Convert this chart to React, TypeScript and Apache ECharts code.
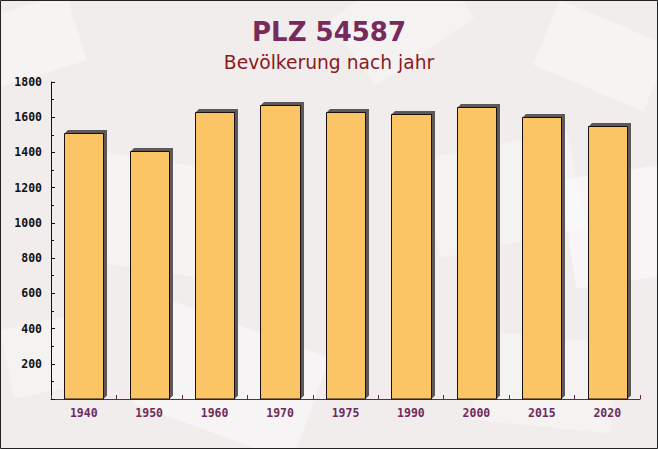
import React, { useEffect, useRef } from "react";
import * as echarts from "echarts";

const categories = ["1940", "1950", "1960", "1970", "1975", "1990", "2000", "2015", "2020"];
const population = [1510, 1410, 1630, 1670, 1627, 1617, 1656, 1600, 1550];
const yTicks = [0, 200, 400, 600, 800, 1000, 1200, 1400, 1600, 1800];

const titleText = "PLZ 54587";
const subtitleText = "Bevölkerung nach jahr";

export default function App() {
  const ref = useRef<HTMLDivElement>(null);
  useEffect(() => {
    document.body.style.margin = "0";
    const chart = echarts.init(ref.current!, null, { renderer: "svg" });
    const mono = "'DejaVu Sans Mono', monospace";
    const env = (x: number, y: number, w: number, h: number, rot: number, op: number) => ({
      type: "rect",
      x, y, rotation: rot, originX: 0, originY: 0,
      shape: { x: 0, y: 0, width: w, height: h },
      style: { fill: `rgba(255,255,255,${op})` },
      silent: true,
      z: -10,
    });
    chart.setOption({
      animation: false,
      backgroundColor: "#f1eded",
      graphic: [
        env(-20, 20, 90, 70, 0.3, 0.35),
        env(90, 150, 150, 110, -0.15, 0.35),
        env(170, 300, 170, 110, -0.35, 0.4),
        env(330, 20, 120, 80, 0.6, 0.3),
        env(420, 160, 150, 100, 0.2, 0.3),
        env(560, 180, 120, 110, 0.15, 0.45),
        env(0, 330, 80, 70, 0.2, 0.3),
        env(480, 330, 140, 90, -0.1, 0.3),
        env(560, 0, 120, 70, -0.4, 0.35),
        {
          type: "rect",
          shape: { x: 0.5, y: 0.5, width: 657, height: 448 },
          style: { fill: "none", stroke: "#222", lineWidth: 1 },
          silent: true,
          z: 100,
        },
      ],
      title: [
        {
          text: titleText,
          left: "center",
          top: 14,
          textStyle: { fontFamily: "'DejaVu Sans', sans-serif", fontWeight: "bold", fontSize: 26, color: "#772a5b" },
        },
        {
          text: subtitleText,
          left: "center",
          top: 48,
          textStyle: { fontFamily: "'DejaVu Sans', sans-serif", fontWeight: "normal", fontSize: 18.7, color: "#8b1a1e" },
        },
      ],
      grid: { left: 51, right: 18, top: 82, bottom: 50, containLabel: false },
      xAxis: {
        type: "category",
        data: categories,
        axisLine: { show: true, lineStyle: { color: "#5e2a4e", width: 1 } },
        axisTick: { show: true, inside: true, length: 4, alignWithLabel: false, lineStyle: { color: "#5e2a4e" } },
        axisLabel: { margin: 8, fontFamily: mono, fontWeight: "bold", fontSize: 11.5, color: "#6e2b5c" },
        splitLine: { show: false },
      },
      yAxis: {
        type: "value",
        min: yTicks[0],
        max: yTicks[yTicks.length - 1],
        interval: 200,
        axisLine: { show: true, lineStyle: { color: "#111", width: 1 } },
        axisTick: { show: true, inside: true, length: 4, lineStyle: { color: "#111" } },
        minorTick: { show: true, splitNumber: 2, length: 3, lineStyle: { color: "#111" } },
        splitLine: { show: false },
        axisLabel: {
          margin: 9,
          fontFamily: mono,
          fontWeight: "bold",
          fontSize: 11.5,
          color: "#111",
          formatter: (v: number) => (v === 0 ? "" : String(v)),
        },
      },
      series: [
        {
          type: "custom",
          data: population.map((v, i) => [i, v]),
          encode: { x: 0, y: 1 },
          renderItem: (params: any, api: any) => {
            const idx = api.value(0);
            const v = api.value(1);
            const top = api.coord([idx, v]);
            const base = api.coord([idx, 0]);
            const band = api.size([1, 0])[0];
            const w = band * 0.6;
            const x0 = Math.round(top[0] - w / 2) + 0.5;
            const x1 = Math.round(top[0] + w / 2) + 0.5;
            const y0 = Math.round(top[1]) + 0.5;
            const yb = base[1];
            const d = 3.5;
            return {
              type: "group",
              children: [
                {
                  type: "polygon",
                  shape: {
                    points: [
                      [x0, y0],
                      [x0 + d, y0 - d],
                      [x1 + d, y0 - d],
                      [x1 + d, yb - d],
                      [x1, yb],
                    ],
                  },
                  style: { fill: "#5d5959" },
                },
                {
                  type: "rect",
                  shape: { x: x0, y: y0, width: x1 - x0, height: yb - y0 },
                  style: { fill: "#fbc566", stroke: "#1a1010", lineWidth: 1 },
                },
              ],
            };
          },
        },
      ],
    });
    return () => chart.dispose();
  }, []);
  return <div ref={ref} style={{ width: 658, height: 449 }} />;
}
